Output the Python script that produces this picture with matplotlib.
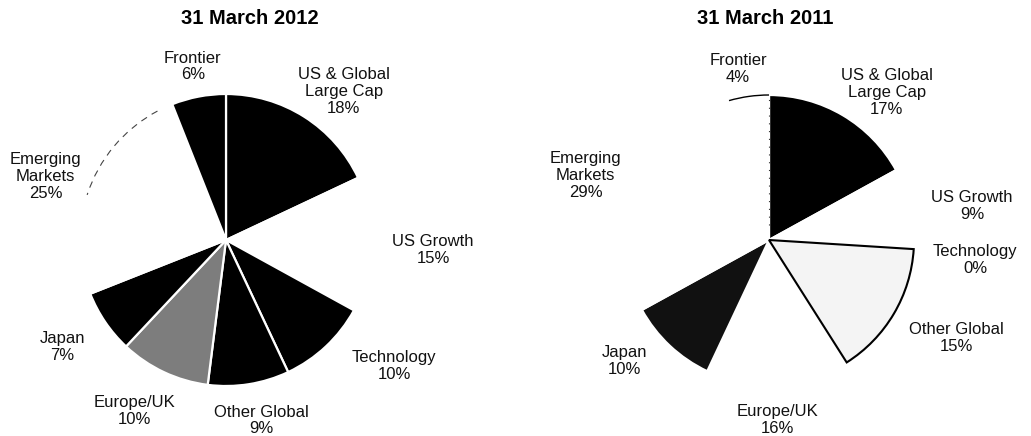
import numpy as np
import matplotlib.pyplot as plt
from matplotlib.patches import Arc

plt.rcParams['font.family'] = ['Liberation Sans', 'DejaVu Sans']

# ---------------------------------------------------------------- data
segments = ['US & Global\nLarge Cap', 'US Growth', 'Technology', 'Other Global',
            'Europe/UK', 'Japan', 'Emerging\nMarkets', 'Frontier']

share_2012 = [18, 15, 10, 9, 10, 7, 25, 6]
share_2011 = [17, 9, 0, 15, 16, 10, 29, 4]

titles = ['31 March 2012', '31 March 2011']

# scanned print: most tints dropped out, so fills are black / white / grey
colors_2012 = ['black', 'white', 'black', 'black', '#7d7d7d', 'black', 'white', 'black']
colors_2011 = ['black', 'white', 'white', '#f4f4f4', 'white', '#111111', 'white', 'white']

# label placement: (radius factor, angle nudge in degrees) per slice
label_pos_2012 = [(1.30, -6), (1.42, -1), (1.44, 10), (1.26, 2),
                  (1.33, -3), (1.34, -1), (1.31, 4), (1.21, 0)]
label_pos_2011 = [(1.30, -8), (1.42, -3), (1.43, -2), (1.46, 3),
                  (1.24, -1), (1.30, -7), (1.34, 4), (1.20, 3)]


def draw_pie(ax, values, colors, label_pos, title):
    wedges, texts = ax.pie(values, colors=colors, startangle=90, counterclock=False,
                           radius=1, labels=None,
                           wedgeprops=dict(edgecolor='white', linewidth=1.6))
    for w, name, v, (rf, dth) in zip(wedges, segments, values, label_pos):
        mid = np.deg2rad(0.5 * (w.theta1 + w.theta2) + dth)
        ax.text(rf * np.cos(mid), rf * np.sin(mid), f'{name}\n{v}%',
                ha='center', va='center', fontsize=12, linespacing=1.15, color='#111111')
    ax.set_title(title, fontsize=14.5, fontweight='bold', pad=0, y=0.945)
    return wedges


fig = plt.figure(figsize=(10.31, 4.36), dpi=100)

# left pie: centre at (226, 240) px, radius 146 px
ax1 = fig.add_axes([0, 0, 500 / 1031, 1])
w1 = draw_pie(ax1, share_2012, colors_2012, label_pos_2012, titles[0])
ax1.set_xlim(-226 / 146, 274 / 146)
ax1.set_ylim(-196 / 146, 240 / 146)
ax1.set_aspect('auto')
ax1.add_patch(Arc((0, 0), 2, 2, theta1=118, theta2=162, color='#444444',
                  lw=0.8, linestyle=(0, (6, 5))))

# right pie: centre at (769, 240) px, radius 145 px
ax2 = fig.add_axes([500 / 1031, 0, 531 / 1031, 1])
w2 = draw_pie(ax2, share_2011, colors_2011, label_pos_2011, titles[1])
ax2.set_xlim(-269 / 145, 262 / 145)
ax2.set_ylim(-196 / 145, 240 / 145)
ax2.set_aspect('auto')
w2[3].set_edgecolor('black')
w2[3].set_linewidth(1.5)
w2[3].set_zorder(5)
ax2.add_patch(Arc((0, 0), 2, 2, theta1=90, theta2=106, color='black', lw=1.0))
ax2.plot([0, 0], [0.1, 0.98], color='#333333', lw=0.8, linestyle=(0, (1, 6)))

for ax in (ax1, ax2):
    ax.axis('off')

plt.savefig('out.png', dpi=100)
